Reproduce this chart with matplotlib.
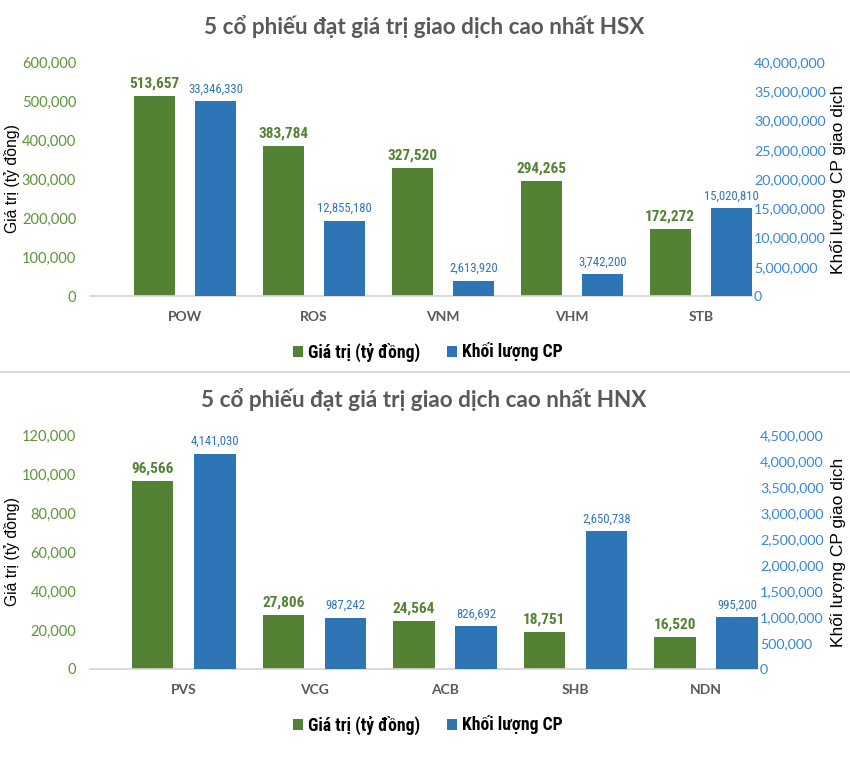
import matplotlib
matplotlib.use('Agg')
import matplotlib.pyplot as plt
from matplotlib import font_manager as fm
from matplotlib.patches import Patch
from matplotlib.lines import Line2D
import numpy as np

# ---------------- data ----------------
hsx_codes = ['POW', 'ROS', 'VNM', 'VHM', 'STB']
hsx_value = [513657, 383784, 327520, 294265, 172272]
hsx_volume = [33346330, 12855180, 2613920, 3742200, 15020810]
hsx_left_ticks = [0, 100000, 200000, 300000, 400000, 500000, 600000]
hsx_right_ticks = [0, 5000000, 10000000, 15000000, 20000000, 25000000,
                   30000000, 35000000, 40000000]

hnx_codes = ['PVS', 'VCG', 'ACB', 'SHB', 'NDN']
hnx_value = [96566, 27806, 24564, 18751, 16520]
hnx_volume = [4141030, 987242, 826692, 2650738, 995200]
hnx_left_ticks = [0, 20000, 40000, 60000, 80000, 100000, 120000]
hnx_right_ticks = [0, 500000, 1000000, 1500000, 2000000, 2500000,
                   3000000, 3500000, 4000000, 4500000]

hsx_title = '5 cổ phiếu đạt giá trị giao dịch cao nhất HSX'
hnx_title = '5 cổ phiếu đạt giá trị giao dịch cao nhất HNX'
left_label = 'Giá trị (tỷ đồng)'
right_label = 'Khối lượng CP giao dịch'
legend_labels = ['Giá trị (tỷ đồng)', 'Khối lượng CP']

# ---------------- style ----------------
W, H = 850, 776
GREEN = '#548235'
GREEN_TICK = '#5E9437'
BLUE = '#2E75B6'
BLUE_TICK = '#3A86CF'
GREY = '#595959'
ARIAL = ['Liberation Sans', 'DejaVu Sans']
CAL = ['Lato', 'DejaVu Sans']

# condensed font if one is installed
_fonts = fm.fontManager.ttflist
_names = {f.name for f in _fonts}
NARROW = ARIAL
NARROW_STRETCH = 'normal'
NARROW_SCALE = 0.84
for cand in ['Liberation Sans Narrow', 'Arial Narrow', 'Roboto Condensed',
             'Open Sans Condensed', 'Noto Sans Condensed']:
    if cand in _names:
        NARROW = [cand, 'Liberation Sans', 'DejaVu Sans']
        NARROW_SCALE = 1.0
        break
else:
    if any(f.name == 'DejaVu Sans' and 'Condensed' in f.fname for f in _fonts):
        NARROW = ['DejaVu Sans']
        NARROW_STRETCH = 'condensed'
        NARROW_SCALE = 0.9

fig = plt.figure(figsize=(W / 100, H / 100), dpi=100)
fig.patch.set_facecolor('white')


def fx(px):
    return px / W


def fy(py):
    return 1 - py / H


def panel(codes, value, volume, lticks, rticks, title,
          top, bottom, left, right, spacing, title_y, leg_y):
    ax = fig.add_axes([fx(left), fy(bottom), fx(right - left),
                       (bottom - top) / H])
    ax2 = ax.twinx()
    x = np.arange(len(codes))
    bw = 0.318
    off = 0.238
    first_center = right - 4 * spacing - (off + bw / 2) * spacing
    x0 = (left - first_center) / spacing
    x1 = x0 + (right - left) / spacing
    ax.bar(x - off, value, width=bw, color=GREEN, zorder=3)
    ax2.bar(x + off, volume, width=bw, color=BLUE, zorder=3)
    ax.set_xlim(x0, x1)
    ax2.set_xlim(x0, x1)
    ax.set_ylim(lticks[0], lticks[-1])
    ax2.set_ylim(rticks[0], rticks[-1])
    ax.set_yticks(lticks)
    ax.set_yticklabels([f'{v:,}' for v in lticks], family=CAL,
                       fontsize=10.5, color=GREEN_TICK)
    ax2.set_yticks(rticks)
    ax2.set_yticklabels([f'{v:,}' for v in rticks], family=CAL,
                        fontsize=10.3, color=BLUE_TICK)
    ax.set_xticks(x)
    ax.set_xticklabels(codes, family=CAL, fontsize=10, color=GREY,
                       weight='bold')
    ax.tick_params(axis='y', length=0, pad=10)
    ax2.tick_params(axis='y', length=0, pad=1.5)
    ax.tick_params(axis='x', length=0, pad=11)
    for a in (ax, ax2):
        for s in ('top', 'left', 'right'):
            a.spines[s].set_visible(False)
        a.spines['bottom'].set_color('#D9D9D9')
        a.spines['bottom'].set_linewidth(1.2)
        a.patch.set_visible(False)
    for xi, v in zip(x, value):
        ax.annotate(f'{v:,}', (xi - off, v), xytext=(0, 4),
                    textcoords='offset points', ha='center', va='bottom',
                    family=NARROW, fontstretch=NARROW_STRETCH,
                    fontsize=11 * NARROW_SCALE, weight='bold', color=GREEN)
    for xi, v in zip(x, volume):
        ax2.annotate(f'{v:,}', (xi + off, v), xytext=(0, 4),
                     textcoords='offset points', ha='center', va='bottom',
                     family=NARROW, fontstretch=NARROW_STRETCH,
                     fontsize=9.1 * NARROW_SCALE, color=BLUE)
    mid = (top + bottom) / 2
    fig.text(fx(12), fy(mid), left_label, rotation=90, ha='center',
             va='center', family=ARIAL, fontsize=11.3, color='black')
    fig.text(fx(838), fy(mid), right_label, rotation=90, ha='center',
             va='center', family=ARIAL, fontsize=12.5, color='black')
    fig.text(fx(424), fy(title_y), title, ha='center', va='center',
             family=CAL, weight='bold', fontsize=16.2, color=GREY)
    handles = [Patch(facecolor=GREEN), Patch(facecolor=BLUE)]
    fig.legend(handles, legend_labels, loc='center',
               bbox_to_anchor=(fx(428), fy(leg_y)), ncol=2, frameon=False,
               prop={'family': NARROW, 'size': 12.7 * NARROW_SCALE,
                     'stretch': NARROW_STRETCH, 'weight': 'bold'},
               handlelength=0.55, handleheight=0.55, handletextpad=0.3,
               columnspacing=1.5)
    return ax, ax2


panel(hsx_codes, hsx_value, hsx_volume, hsx_left_ticks, hsx_right_ticks,
      hsx_title, top=62, bottom=296, left=90, right=752, spacing=129.0,
      title_y=27, leg_y=352)
panel(hnx_codes, hnx_value, hnx_volume, hnx_left_ticks, hnx_right_ticks,
      hnx_title, top=435, bottom=669, left=90, right=758, spacing=130.6,
      title_y=400, leg_y=725)

fig.add_artist(Line2D([0, 1], [fy(372), fy(372)], color='#D9D9D9', lw=1.5))

fig.savefig('out.png', dpi=100, facecolor='white')
